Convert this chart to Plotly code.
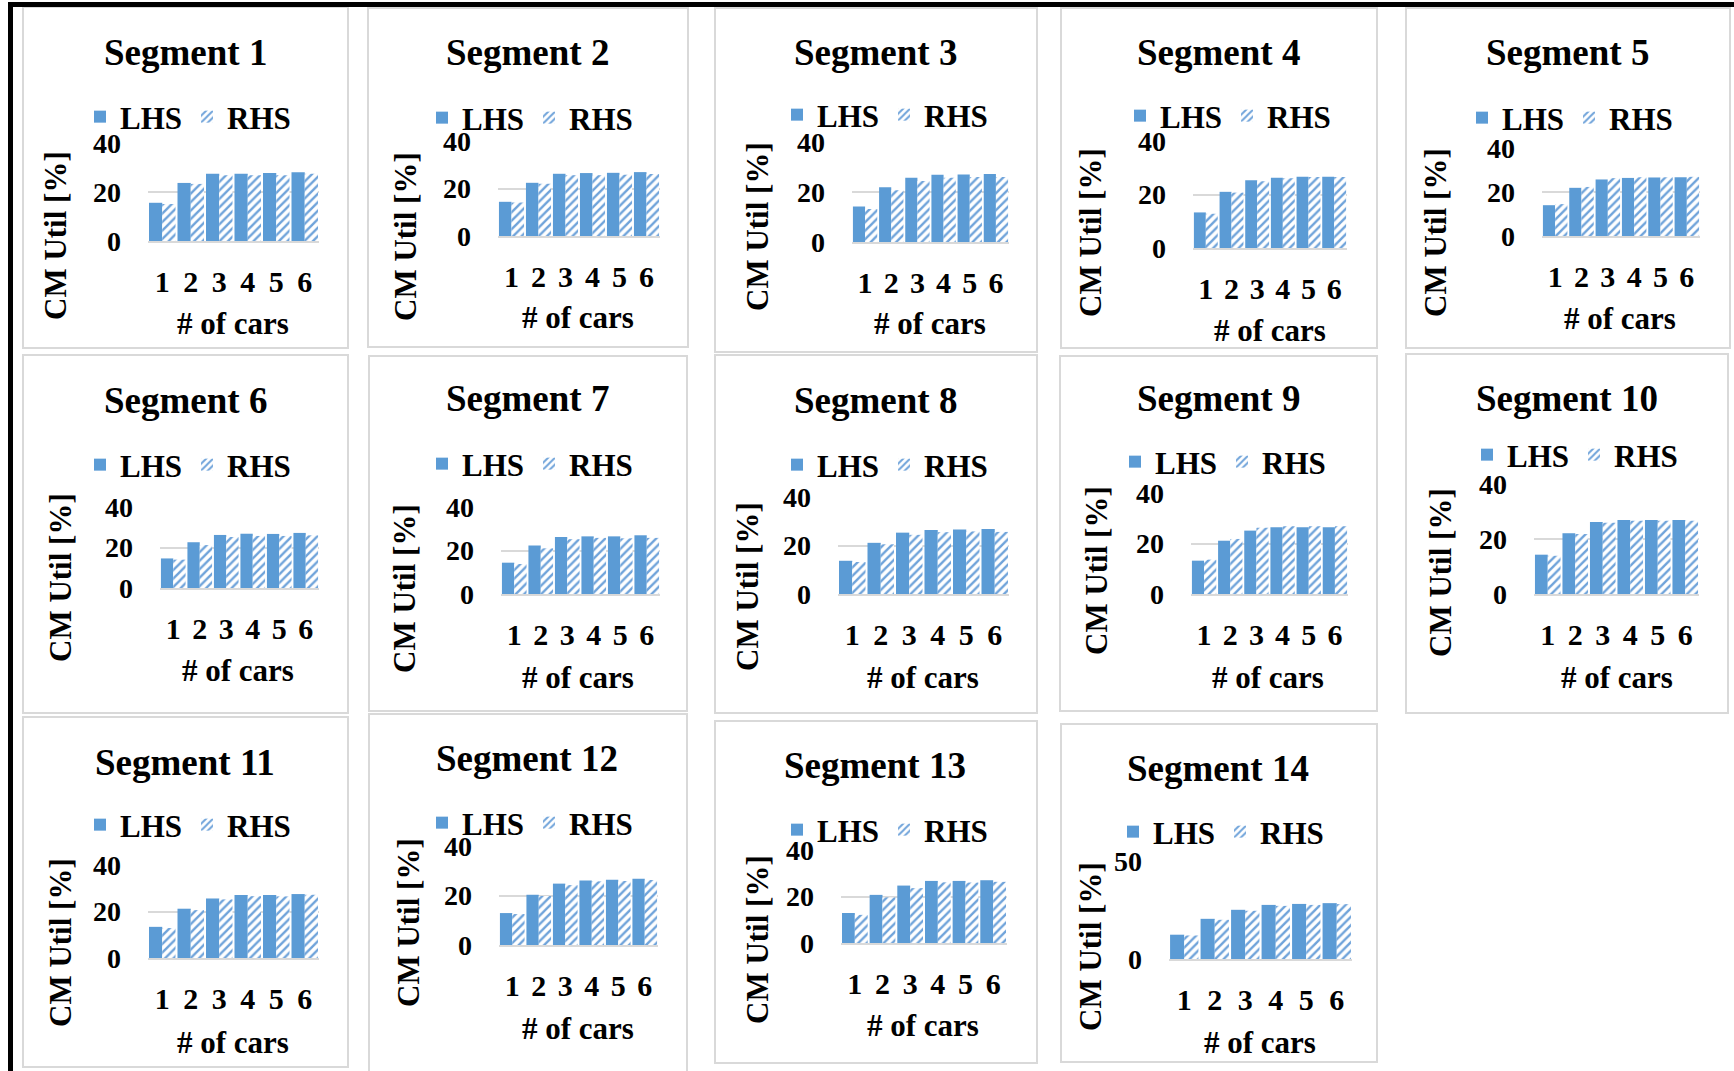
import plotly.graph_objects as go

W, H = 1734, 1071
FONT = "Liberation Serif"

# ---- data -------------------------------------------------------------
cars = [1, 2, 3, 4, 5, 6]
car_labels = ["1", "2", "3", "4", "5", "6"]
series_names = ["LHS", "RHS"]
x_title = "# of cars"
y_title = "CM Util [%]"

seg1_lhs = [15.6, 23.7, 27.4, 27.5, 27.8, 28.1]
seg1_rhs = [15.1, 23.3, 26.8, 26.8, 26.8, 27.5]
seg2_lhs = [14.4, 22.4, 26.2, 26.5, 26.6, 26.9]
seg2_rhs = [14.1, 22.0, 25.6, 25.6, 25.8, 26.1]
seg3_lhs = [14.2, 21.9, 25.7, 26.9, 27.0, 27.2]
seg3_rhs = [13.2, 20.7, 24.4, 25.7, 26.0, 26.0]
seg4_lhs = [13.3, 21.0, 25.3, 26.3, 26.6, 26.6]
seg4_rhs = [12.8, 20.7, 25.0, 26.1, 26.5, 26.5]
seg5_lhs = [14.0, 21.9, 25.7, 26.4, 26.6, 26.7]
seg5_rhs = [14.5, 22.3, 26.3, 26.7, 26.7, 26.9]
seg6_lhs = [14.6, 22.6, 26.2, 26.8, 26.7, 27.2]
seg6_rhs = [14.0, 21.2, 25.2, 25.7, 25.7, 26.0]
seg7_lhs = [14.4, 22.3, 26.2, 26.5, 26.5, 27.0]
seg7_rhs = [13.8, 21.0, 25.2, 25.8, 25.6, 25.8]
seg8_lhs = [13.7, 21.1, 25.3, 26.4, 26.6, 26.8]
seg8_rhs = [13.2, 20.5, 24.4, 25.5, 25.8, 25.6]
seg9_lhs = [13.2, 21.1, 25.1, 26.4, 26.4, 26.4]
seg9_rhs = [13.6, 21.8, 26.2, 26.8, 26.8, 26.8]
seg10_lhs = [14.3, 22.1, 26.2, 26.9, 26.9, 26.9]
seg10_rhs = [13.9, 21.8, 25.9, 26.6, 26.6, 26.6]
seg11_lhs = [13.4, 21.2, 25.6, 27.1, 27.1, 27.5]
seg11_rhs = [12.9, 20.6, 25.2, 26.6, 26.5, 27.2]
seg12_lhs = [12.9, 20.3, 24.8, 26.1, 26.4, 26.8]
seg12_rhs = [12.5, 19.8, 24.2, 25.7, 25.9, 26.3]
seg13_lhs = [12.9, 20.7, 24.7, 26.7, 26.7, 27.0]
seg13_rhs = [12.1, 19.6, 23.6, 26.1, 26.0, 26.3]
seg14_lhs = [12.4, 20.5, 25.1, 27.6, 28.1, 28.5]
seg14_rhs = [12.0, 20.0, 24.6, 27.1, 27.6, 28.0]

segment_titles = [
    "Segment 1", "Segment 2", "Segment 3", "Segment 4", "Segment 5",
    "Segment 6", "Segment 7", "Segment 8", "Segment 9", "Segment 10",
    "Segment 11", "Segment 12", "Segment 13", "Segment 14",
]
y_max = [40, 40, 40, 40, 40, 40, 40, 40, 40, 40, 40, 40, 40, 50]
y_step = [20, 20, 20, 20, 20, 20, 20, 20, 20, 20, 20, 20, 20, 50]

lhs_series = [seg1_lhs, seg2_lhs, seg3_lhs, seg4_lhs, seg5_lhs, seg6_lhs, seg7_lhs,
              seg8_lhs, seg9_lhs, seg10_lhs, seg11_lhs, seg12_lhs, seg13_lhs, seg14_lhs]
rhs_series = [seg1_rhs, seg2_rhs, seg3_rhs, seg4_rhs, seg5_rhs, seg6_rhs, seg7_rhs,
              seg8_rhs, seg9_rhs, seg10_rhs, seg11_rhs, seg12_rhs, seg13_rhs, seg14_rhs]

# ---- panel geometry (pixels) ------------------------------------------
# box: panel frame; plot: x0, x1, y_top, y_bottom; title / legend / axis titles
panels = [
    dict(box=(23, 7, 348, 348), plot=(148, 319, 143, 241), title=(185, 52), leg=(93, 117), xt=(233, 323), yt=(55, 235)),
    dict(box=(368, 8, 688, 347), plot=(498, 660, 141, 236), title=(527, 52), leg=(435, 118), xt=(578, 317), yt=(405, 237)),
    dict(box=(715, 8, 1037, 352), plot=(852, 1009, 142, 242), title=(875, 52), leg=(790, 115), xt=(930, 323), yt=(757, 227)),
    dict(box=(1061, 8, 1377, 348), plot=(1193, 1347, 141, 248), title=(1218, 52), leg=(1133, 116), xt=(1270, 330), yt=(1090, 233)),
    dict(box=(1406, 8, 1730, 348), plot=(1542, 1700, 148, 236), title=(1567, 52), leg=(1475, 118), xt=(1620, 318), yt=(1435, 233)),
    dict(box=(23, 355, 348, 713), plot=(160, 319, 507, 588), title=(185, 400), leg=(93, 465), xt=(238, 670), yt=(60, 578)),
    dict(box=(369, 356, 687, 711), plot=(501, 660, 507, 594), title=(527, 398), leg=(435, 464), xt=(578, 677), yt=(404, 589)),
    dict(box=(715, 355, 1037, 713), plot=(838, 1009, 497, 594), title=(875, 400), leg=(790, 465), xt=(923, 677), yt=(747, 587)),
    dict(box=(1060, 356, 1377, 711), plot=(1191, 1348, 493, 594), title=(1218, 398), leg=(1128, 462), xt=(1268, 677), yt=(1096, 571)),
    dict(box=(1406, 354, 1728, 713), plot=(1534, 1699, 484, 594), title=(1567, 398), leg=(1480, 455), xt=(1617, 677), yt=(1440, 573)),
    dict(box=(23, 717, 348, 1067), plot=(148, 319, 865, 958), title=(185, 762), leg=(93, 825), xt=(233, 1042), yt=(60, 943)),
    dict(box=(369, 714, 687, 1075), plot=(499, 658, 846, 945), title=(527, 758), leg=(435, 823), xt=(578, 1028), yt=(408, 923)),
    dict(box=(715, 721, 1037, 1063), plot=(841, 1007, 850, 943), title=(875, 765), leg=(790, 830), xt=(923, 1025), yt=(757, 940)),
    dict(box=(1061, 724, 1377, 1062), plot=(1169, 1352, 861, 959), title=(1218, 768), leg=(1126, 832), xt=(1260, 1042), yt=(1090, 947)),
]

BLUE = "#5B9BD5"
GRID = "#d9d9d9"


def fx(px):
    return px / W


def fy(py):
    return 1 - py / H


fig = go.Figure()
layout = dict(
    width=W, height=H,
    margin=dict(l=0, r=0, t=0, b=0, pad=0, autoexpand=False),
    paper_bgcolor="white", plot_bgcolor="white",
    barmode="group", bargap=0.07, bargroupgap=0,
    font=dict(family=FONT, color="black"),
)
annotations = []
shapes = []

for i, p in enumerate(panels):
    n = i + 1
    sfx = "" if n == 1 else str(n)
    leg_name = "legend" + sfx

    fig.add_trace(go.Bar(
        x=cars, y=lhs_series[i], name=series_names[0],
        xaxis="x" + sfx, yaxis="y" + sfx, legend=leg_name,
        marker=dict(color=BLUE, line=dict(width=0)),
        hoverinfo="skip",
    ))
    fig.add_trace(go.Bar(
        x=cars, y=rhs_series[i], name=series_names[1],
        xaxis="x" + sfx, yaxis="y" + sfx, legend=leg_name,
        marker=dict(color="white", line=dict(width=0),
                    pattern=dict(shape="/", fgcolor="#6FA3DA", bgcolor="white",
                                 size=6, solidity=0.4, fillmode="replace")),
        hoverinfo="skip",
    ))

    x0, x1, yt, yb = p["plot"]
    layout["xaxis" + sfx] = dict(
        domain=[fx(x0), fx(x1)], range=[0.5, 6.5], anchor="y" + sfx,
        tickvals=cars, ticktext=car_labels, ticks="",
        ticklabelstandoff=13, automargin=False,
        tickfont=dict(family=FONT, size=30, color="black", weight="bold"),
        showline=True, linecolor=GRID, linewidth=1.5,
        showgrid=False, zeroline=False, fixedrange=True,
    )
    layout["yaxis" + sfx] = dict(
        domain=[fy(yb), fy(yt)], range=[0, y_max[i]], anchor="x" + sfx,
        tick0=0, dtick=y_step[i], ticks="",
        ticklabelstandoff=26, automargin=False,
        tickfont=dict(family=FONT, size=28, color="black", weight="bold"),
        showgrid=True, gridcolor=GRID, gridwidth=1.5,
        showline=False, zeroline=False, fixedrange=True,
    )

    lx, ly = p["leg"]
    layout[leg_name] = dict(
        orientation="h", x=fx(lx - 13), y=fy(ly), xanchor="left", yanchor="middle",
        font=dict(family=FONT, size=31, color="black", weight="bold"),
        bgcolor="rgba(0,0,0,0)", borderwidth=0,
        entrywidth=62, entrywidthmode="pixels",
        itemclick=False, itemdoubleclick=False,
    )

    tx, ty = p["title"]
    annotations.append(dict(
        text=segment_titles[i], x=fx(tx), y=fy(ty), xref="paper", yref="paper",
        xanchor="center", yanchor="middle", showarrow=False,
        font=dict(family=FONT, size=37, color="black", weight="bold"),
    ))
    ax_x, ax_y = p["xt"]
    annotations.append(dict(
        text=x_title, x=fx(ax_x), y=fy(ax_y), xref="paper", yref="paper",
        xanchor="center", yanchor="middle", showarrow=False,
        font=dict(family=FONT, size=31, color="black", weight="bold"),
    ))
    ay_x, ay_y = p["yt"]
    annotations.append(dict(
        text=y_title, x=fx(ay_x), y=fy(ay_y), xref="paper", yref="paper",
        xanchor="center", yanchor="middle", showarrow=False, textangle=-90,
        font=dict(family=FONT, size=31, color="black", weight="bold"),
    ))

    bx0, by0, bx1, by1 = p["box"]
    shapes.append(dict(
        type="rect", xref="paper", yref="paper", layer="below",
        x0=fx(bx0), x1=fx(bx1), y0=fy(by1), y1=fy(by0),
        line=dict(color=GRID, width=2), fillcolor="rgba(0,0,0,0)",
    ))

# outer black frame along the top and left edges
shapes.append(dict(type="rect", xref="paper", yref="paper", layer="above",
                   x0=fx(8), x1=1, y0=fy(7), y1=fy(2),
                   line=dict(width=0), fillcolor="black"))
shapes.append(dict(type="rect", xref="paper", yref="paper", layer="above",
                   x0=fx(8), x1=fx(13), y0=0, y1=fy(2),
                   line=dict(width=0), fillcolor="black"))

layout["annotations"] = annotations
layout["shapes"] = shapes
fig.update_layout(**layout)

fig.write_html("out.html")
